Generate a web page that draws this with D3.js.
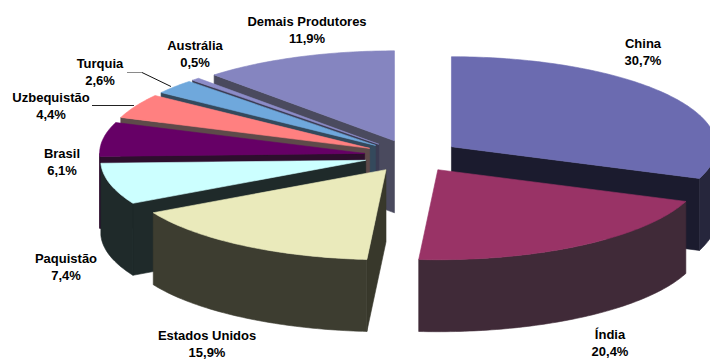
<!DOCTYPE html>
<html>
<head>
<meta charset="utf-8">
<script src="https://cdn.jsdelivr.net/npm/d3@7/dist/d3.min.js"></script>
<style>
  html, body { margin: 0; padding: 0; background: #ffffff; }
  svg { display: block; }
  text { font-family: "Liberation Sans", Arial, Helvetica, sans-serif; font-weight: bold; font-size: 13px; fill: #000; }
</style>
</head>
<body>
<svg id="chart" width="710" height="359"></svg>
<script>
// Produção mundial por país (% do total)
const categories = ["China", "Índia", "Estados Unidos", "Paquistão", "Brasil",
                    "Uzbequistão", "Turquia", "Austrália", "Demais Produtores"];
const shares = [30.7, 20.4, 15.9, 7.4, 6.1, 4.4, 2.6, 0.5, 11.9];

// Slice palette: top face, outer wall, cut (radial) wall
const topColors    = ["#6b6bb0", "#993366", "#eaeabb", "#ccffff", "#660066", "#ff8080", "#6fa8dc", "#8c8cc8", "#8585c0"];
const wallColors   = ["#26263c", "#402a38", "#3d3d30", "#1f2a2a", "#2d0e2d", "#5e4a4a", "#34495c", "#3b3b52", "#4a4a5e"];
const cutColors    = ["#1b1b2e", "#3a2432", "#38382b", "#1f2a2a", "#2d0e2d", "#5e4a4a", "#34495c", "#3b3b52", "#4a4a5e"];

// Label anchors (centre x, first baseline y)
const labelAnchors = [[643, 48], [610, 339], [207, 340], [66, 263], [62, 158],
                      [51, 102], [100, 68], [195, 50], [307, 26]];

const svg = d3.select("#chart");

// Tilted-disc geometry
const cx = 412, cy = 156, rx = 265, ry = 90, depth = 72, explode = 0.181;
const xs = d3.scaleLinear().domain([-1, 1]).range([cx - rx, cx + rx]);
const ys = d3.scaleLinear().domain([-1, 1]).range([cy + ry, cy - ry]);

const arcs = d3.pie().sort(null).value(d => d)
  .startAngle(0).endAngle(2 * Math.PI)(shares);

arcs.forEach((a, i) => {
  a.i = i;
  a.mid = (a.startAngle + a.endAngle) / 2;
  a.ox = explode * Math.sin(a.mid);
  a.oz = explode * Math.cos(a.mid);
});

function proj(a, ang, r, h) {
  return [xs(r * Math.sin(ang) + a.ox), ys(r * Math.cos(ang) + a.oz) + h];
}

function rimPoints(a, a0, a1, h) {
  const n = Math.max(2, Math.ceil((a1 - a0) / (Math.PI / 180)));
  return d3.range(n + 1).map(k => proj(a, a0 + (a1 - a0) * k / n, 1, h));
}

const line = d3.line();
const g = svg.append("g");

function face(pts, fill) {
  g.append("path")
    .attr("d", line(pts) + "Z")
    .attr("fill", fill)
    .attr("stroke", fill)
    .attr("stroke-width", 0.6)
    .attr("stroke-linejoin", "round");
}

// Paint slices from back to front
const order = arcs.slice().sort((p, q) => Math.cos(q.mid) - Math.cos(p.mid));

order.forEach(a => {
  const i = a.i;
  const s = a.startAngle, e = a.endAngle;
  const apexT = proj(a, 0, 0, 0), apexB = proj(a, 0, 0, depth);

  // cut wall at the start edge
  if (Math.cos(s - Math.PI / 2) < -1e-6) {
    face([apexT, proj(a, s, 1, 0), proj(a, s, 1, depth), apexB], cutColors[i]);
  }
  // cut wall at the end edge
  if (Math.cos(e + Math.PI / 2) < -1e-6) {
    face([apexT, proj(a, e, 1, 0), proj(a, e, 1, depth), apexB], cutColors[i]);
  }
  // outer wall, front half only
  const w0 = Math.max(s, Math.PI / 2), w1 = Math.min(e, 3 * Math.PI / 2);
  if (w1 > w0) {
    const topRim = rimPoints(a, w0, w1, 0);
    const botRim = rimPoints(a, w0, w1, depth).reverse();
    face(topRim.concat(botRim), wallColors[i]);
  }
  // top face
  face([apexT].concat(rimPoints(a, s, e, 0)), topColors[i]);
});

// Leader lines
svg.append("path").attr("d", "M127,72.5H142").attr("stroke", "#8a8a8a").attr("stroke-width", 1).attr("fill", "none");
svg.append("path").attr("d", "M142,72.5L171,86.5").attr("stroke", "#111").attr("stroke-width", 1).attr("fill", "none");
svg.append("path").attr("d", "M92,105.5H134").attr("stroke", "#222").attr("stroke-width", 1).attr("fill", "none");

// Labels
const fmt = v => d3.format(".1f")(v).replace(".", ",") + "%";
const labels = svg.append("g");
categories.forEach((name, i) => {
  const [lx, ly] = labelAnchors[i];
  labels.append("text").attr("x", lx).attr("y", ly).attr("text-anchor", "middle").text(name);
  labels.append("text").attr("x", lx).attr("y", ly + 17).attr("text-anchor", "middle").text(fmt(shares[i]));
});
</script>
</body>
</html>
